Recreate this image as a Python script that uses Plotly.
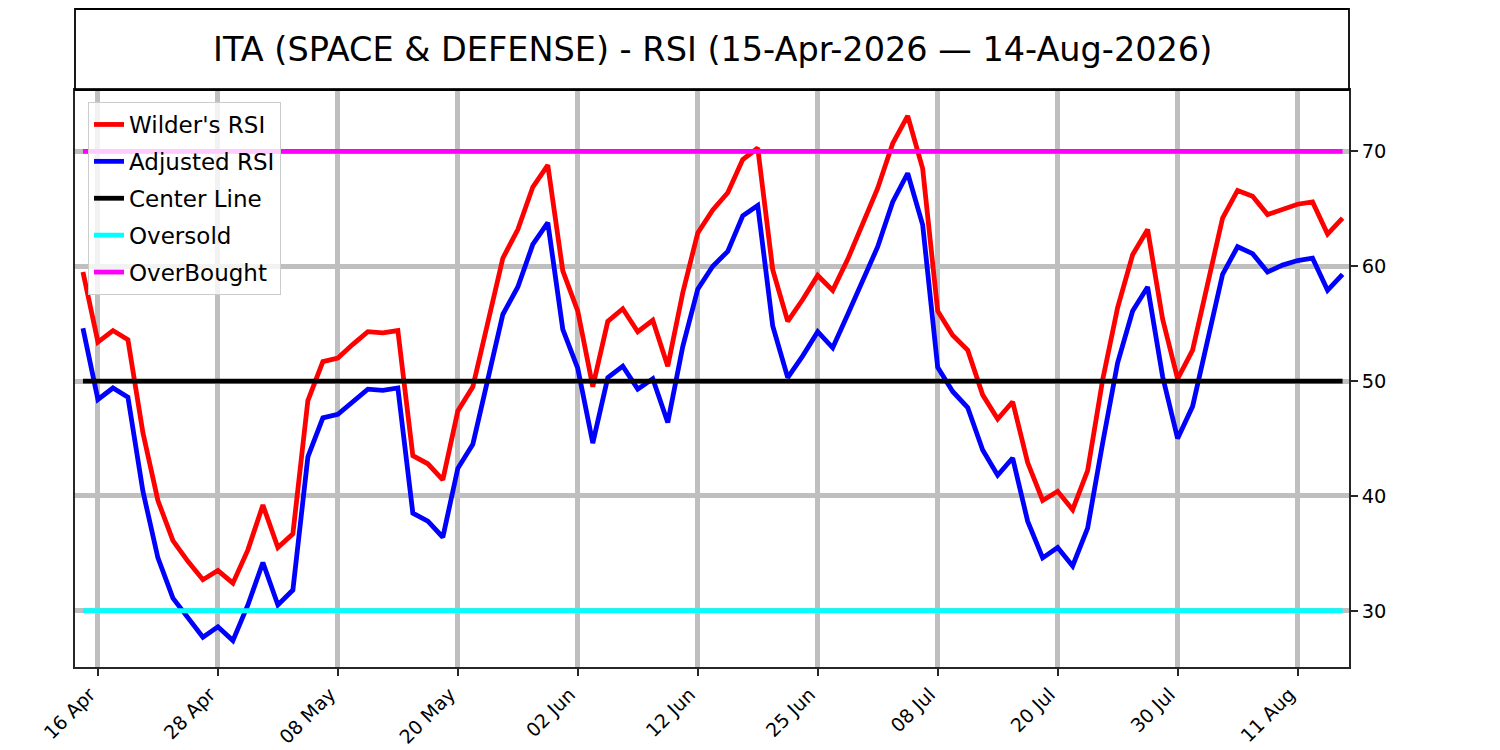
import pandas as pd
import plotly.graph_objects as go

# trading days 15 Apr - 14 Aug 2026 (NYSE holidays removed)
holidays = ["2026-05-25", "2026-06-19", "2026-07-03"]
days = pd.bdate_range("2026-04-15", "2026-08-14", freq="C", holidays=holidays)
dates = [d.strftime("%d %b") for d in days]

tick_labels = ["16 Apr", "28 Apr", "08 May", "20 May", "02 Jun", "12 Jun",
               "25 Jun", "08 Jul", "20 Jul", "30 Jul", "11 Aug"]

wilder_rsi = [59.5, 53.4, 54.4, 53.6, 45.5, 39.6, 36.1, 34.3, 32.7, 33.5,
              32.4, 35.3, 39.2, 35.5, 36.7, 48.3, 51.7, 52.0, 53.2, 54.3,
              54.2, 54.4, 43.5, 42.8, 41.4, 47.4, 49.5, 55.1, 60.7, 63.2,
              66.9, 68.8, 59.6, 56.1, 49.5, 55.2, 56.3, 54.3, 55.3, 51.3,
              57.7, 62.9, 64.9, 66.4, 69.3, 70.3, 59.7, 55.2, 57.1, 59.2,
              57.9, 60.6, 63.6, 66.8, 70.7, 73.1, 68.5, 56.1, 54.0, 52.7,
              48.8, 46.7, 48.2, 42.9, 39.6, 40.4, 38.8, 42.2, 50.1, 56.4,
              61.0, 63.2, 55.4, 50.2, 52.7, 58.5, 64.2, 66.6, 66.1, 64.5,
              65.0, 65.4, 65.6, 62.8, 64.2]

adjusted_rsi = [54.6, 48.4, 49.4, 48.6, 40.4, 34.6, 31.1, 29.4, 27.7, 28.6,
                27.4, 30.5, 34.2, 30.5, 31.8, 43.4, 46.8, 47.1, 48.2, 49.3,
                49.2, 49.4, 38.5, 37.8, 36.4, 42.4, 44.5, 50.1, 55.8, 58.2,
                61.9, 63.8, 54.5, 51.1, 44.6, 50.3, 51.3, 49.3, 50.2, 46.4,
                53.0, 58.0, 60.0, 61.3, 64.4, 65.3, 54.8, 50.3, 52.2, 54.3,
                52.9, 55.8, 58.7, 61.7, 65.6, 68.1, 63.6, 51.2, 49.1, 47.7,
                44.0, 41.8, 43.3, 37.8, 34.6, 35.5, 33.9, 37.2, 44.6, 51.6,
                56.1, 58.2, 50.4, 45.0, 47.8, 53.6, 59.3, 61.7, 61.1, 59.5,
                60.1, 60.5, 60.7, 57.9, 59.3]

center_level = 50
oversold_level = 30
overbought_level = 70

n = len(dates)
lw = 4.8

fig = go.Figure()
fig.add_trace(go.Scatter(x = dates, y = wilder_rsi, mode = 'lines', name = "Wilder's RSI",
                         line = dict(color = 'red', width = lw), legendgroup = 'a'))
fig.add_trace(go.Scatter(x = dates, y = adjusted_rsi, mode = 'lines', name = 'Adjusted RSI',
                         line = dict(color = 'blue', width = lw), legendgroup = 'b'))
fig.add_trace(go.Scatter(x = dates, y = [center_level] * n, mode = 'lines', name = 'Center Line',
                         line = dict(color = 'black', width = lw), legendgroup = 'c'))
fig.add_trace(go.Scatter(x = dates, y = [oversold_level] * n, mode = 'lines', name = 'Oversold',
                         line = dict(color = 'cyan', width = lw), legendgroup = 'd'))
fig.add_trace(go.Scatter(x = dates, y = [overbought_level] * n, mode = 'lines', name = 'OverBought',
                         line = dict(color = 'magenta', width = lw), legendgroup = 'e'))

# page is drawn with an 8px body offset, margins compensate for it
plot_h = 750 - 82 - 91

fig.update_layout(
    width = 1500,
    height = 750,
    margin = dict(l = 67, r = 159, t = 82, b = 91),
    font = dict(family = 'DejaVu Sans', color = 'black', size = 19),
    plot_bgcolor = 'white',
    paper_bgcolor = 'white',
    showlegend = True,
    legend = dict(
        x = (88 - 75) / 1274, y = (667 - 102) / plot_h,
        xanchor = 'left', yanchor = 'top',
        bgcolor = 'rgba(255,255,255,0.8)',
        bordercolor = '#cccccc', borderwidth = 1,
        font = dict(size = 23),
        tracegroupgap = 4,
        itemwidth = 30,
    ),
    shapes = [dict(type = 'rect', xref = 'paper', yref = 'paper',
                   x0 = 0, x1 = 1, y0 = 1, y1 = 1 + 81 / plot_h,
                   line = dict(color = 'black', width = 1.8))],
    annotations = [dict(text = 'ITA (SPACE & DEFENSE) - RSI (15-Apr-2026 \u2014 14-Aug-2026)',
                        xref = 'paper', yref = 'paper', x = 0.5, y = 1 + 40 / plot_h,
                        xanchor = 'center', yanchor = 'middle', showarrow = False,
                        font = dict(size = 33.5))],
)
fig.update_xaxes(
    type = 'category',
    range = [-0.53, n - 1 + 0.43],
    tickmode = 'array',
    tickvals = tick_labels,
    tickangle = -45,
    tickfont = dict(size = 19),
    ticklabelshift = -8,
    automargin = False,
    ticks = 'outside',
    ticklen = 7,
    tickwidth = 1.8,
    tickcolor = '#262626',
    showline = True,
    mirror = True,
    linecolor = '#262626',
    linewidth = 1.8,
    gridcolor = '#bfbfbf',
    gridwidth = 5,
)
fig.update_yaxes(
    side = 'right',
    range = [25.1, 75.35],
    tickvals = [30, 40, 50, 60, 70],
    tickfont = dict(size = 19.4),
    automargin = False,
    ticks = 'outside',
    ticklen = 7,
    tickwidth = 1.8,
    tickcolor = '#262626',
    showline = True,
    mirror = True,
    linecolor = '#262626',
    linewidth = 1.8,
    gridcolor = '#bfbfbf',
    gridwidth = 5,
    zeroline = False,
)
fig.write_html("out.html")
